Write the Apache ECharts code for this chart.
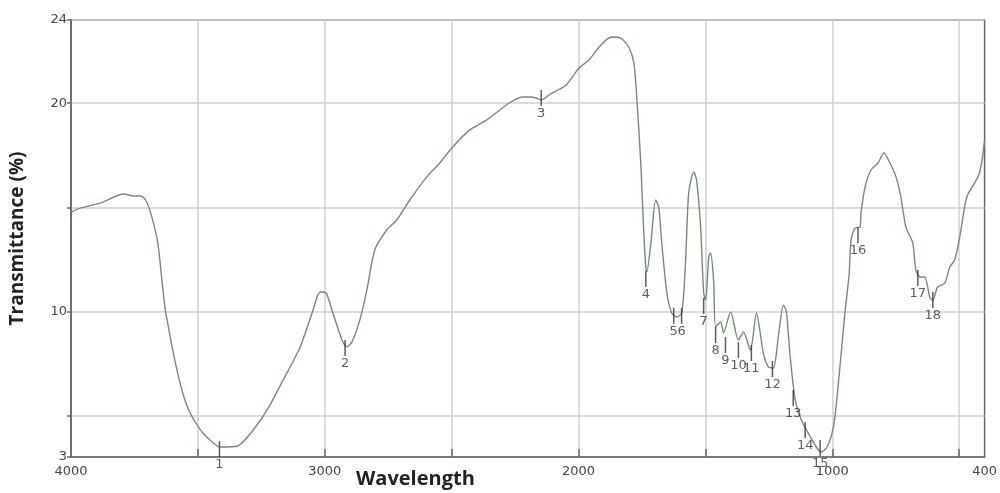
<!DOCTYPE html>
<html>
<head>
<meta charset="utf-8">
<script src="https://cdn.jsdelivr.net/npm/echarts@6/dist/echarts.min.js"></script>
<style>
  html, body { margin: 0; padding: 0; background: #fff; }
  #chart { width: 1000px; height: 493px; }
</style>
</head>
<body>
<div id="chart"></div>
<script>
// spectrum (wavenumber, transmittance %)
var waveNumbers = [4000,3961,3882,3792,3753,3725,3706,3686,3658,3639,
  3627,3580,3541,3490,3439,3411,3344,3282,3227,3164,
  3097,3046,3019,2995,2968,2932,2913,2893,2862,2834,
  2803,2756,2716,2665,2598,2547,2496,2430,2363,2273,
  2222,2186,2167,2147,2116,2049,1998,1959,1919,1880,
  1853,1829,1802,1782,1770,1754,1743,1735,1731,1715,
  1696,1684,1672,1652,1633,1613,1593,1578,1566,1546,
  1535,1519,1507,1499,1487,1480,1468,1460,1440,1429,
  1401,1370,1350,1323,1299,1272,1252,1232,1213,1193,
  1181,1166,1146,1122,1095,1063,1044,1024,1005,989,
  950,934,926,910,891,887,871,848,820,797,
  773,749,730,710,683,671,655,636,616,604,
  585,557,537,518,498,479,467,439,420,408,400];
var transmittance = [14.77,14.97,15.21,15.64,15.54,15.54,15.35,14.73,13.28,11.17,
  9.97,7.04,5.40,4.30,3.67,3.48,3.53,4.30,5.26,6.70,
  8.29,10.06,10.93,10.88,9.92,8.62,8.29,8.53,9.58,11.03,
  12.95,13.91,14.39,15.35,16.46,17.13,17.90,18.71,19.19,20.01,
  20.30,20.30,20.25,20.16,20.40,20.88,21.69,22.08,22.70,23.14,
  23.18,23.09,22.70,21.93,20.16,16.94,13.76,12.13,11.89,13.28,
  15.35,15.01,13.28,10.88,9.92,9.73,9.92,12.47,15.69,16.70,
  16.31,14.05,10.88,10.54,12.61,12.80,11.51,9.25,9.49,8.96,
  9.97,8.62,9.01,8.14,9.92,8.00,7.33,7.28,8.77,10.30,
  9.97,7.81,5.74,4.78,4.15,3.48,3.24,3.43,3.96,4.97,
  9.97,11.75,13.43,14.00,14.05,14.73,15.97,16.79,17.13,17.61,
  17.13,16.46,15.49,14.05,13.28,11.99,11.65,11.65,10.69,10.54,
  11.17,11.36,12.13,12.47,13.57,15.01,15.59,16.17,16.65,17.42,18.23];

// numbered peak markers
var peakWave = [3415,2920,2147,1735,1625,1594,1507,1460,1421,1370,1319,1236,1154,1107,1048,899,663,604];
var peakT = [3.38,8.24,20.25,11.55,9.78,9.78,10.26,8.86,8.38,8.14,8.00,7.23,5.84,4.30,3.43,13.67,11.60,10.54];
var peakLabels = ['1','2','3','4','5','6','7','8','9','10','11','12','13','14','15','16','17','18'];

// axis ticks / labels
var xLabelValues = [4000,3000,2000,1000,400];
var xTickValues = [3500,3000,2500,2000,1500,1000,500];
var yLabelValues = [3,10,20,24];
var yTickValues = [3,5,10,15,20,24];

var chart = echarts.init(document.getElementById('chart'));

var lineData = waveNumbers.map(function (w, i) { return [w, transmittance[i]]; });
var peakData = peakWave.map(function (w, i) {
  return { value: [w, peakT[i]], name: peakLabels[i] };
});

var option = {
  animation: false,
  backgroundColor: '#fff',
  grid: {
    left: 70, top: 20, right: 13, bottom: 36,
    show: true, borderColor: '#666', borderWidth: 1.5
  },
  xAxis: {
    type: 'value',
    inverse: true,
    min: 400, max: 4000,
    axisLine: { show: true, lineStyle: { color: '#666', width: 1.5 } },
    axisTick: { show: true, inside: true, length: 8, customValues: xTickValues,
      lineStyle: { color: '#666', width: 1.5 } },
    splitLine: { show: true, lineStyle: { color: '#cfcfcf', width: 1.5 } },
    axisLabel: { customValues: xLabelValues, color: '#444', fontSize: 13,
      fontFamily: 'DejaVu Sans', margin: 8,
      formatter: function (v) { return String(v); } }
  },
  yAxis: {
    type: 'value',
    min: 3, max: 24,
    name: 'Transmittance (%)',
    nameLocation: 'middle',
    nameGap: 44,
    nameTextStyle: { fontFamily: 'Open Sans', fontWeight: 'bold', fontSize: 19, color: '#222' },
    axisLine: { show: true, lineStyle: { color: '#666', width: 1.5 } },
    axisTick: { show: true, length: 4, customValues: yTickValues,
      lineStyle: { color: '#666', width: 1.5 } },
    splitLine: { show: true, lineStyle: { color: '#cfcfcf', width: 1.5 } },
    axisLabel: { customValues: yLabelValues, color: '#444', fontSize: 13,
      fontFamily: 'DejaVu Sans', margin: 4 }
  },
  graphic: [{
    type: 'text', left: 356, top: 469,
    style: { text: 'Wavelength', fill: '#222', font: 'bold 20px "Open Sans"' }
  }],
  series: [{
    type: 'line',
    data: lineData,
    showSymbol: false,
    smooth: 0.25,
    lineStyle: { color: '#748c74', width: 1.4 },
    z: 3
  }, {
    type: 'scatter',
    data: peakData,
    symbol: 'rect',
    symbolSize: [1.5, 16],
    itemStyle: { color: '#333' },
    clip: false,
    label: {
      show: true, position: 'bottom', distance: 1,
      formatter: '{b}', color: '#333', fontSize: 13, fontFamily: 'DejaVu Sans'
    },
    z: 4
  }]
};

chart.setOption(option);
</script>
</body>
</html>
